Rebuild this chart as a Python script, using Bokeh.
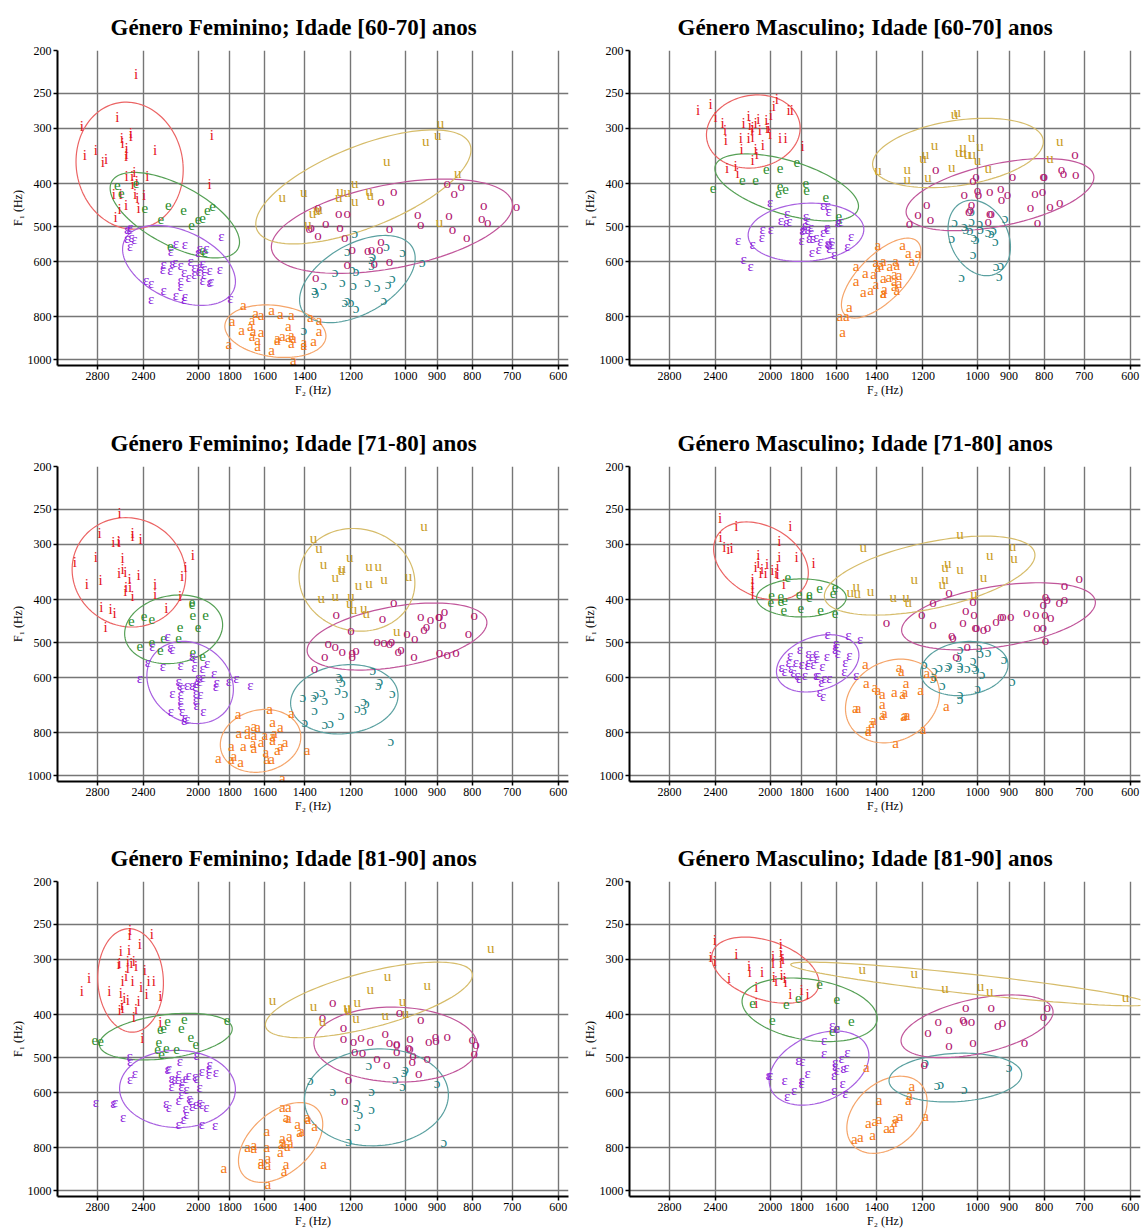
import numpy as np
from bokeh.plotting import figure
from bokeh.models import Range1d, FixedTicker, PrintfTickFormatter, ColumnDataSource
from bokeh.layouts import column, row
from bokeh.embed import file_html
from bokeh.resources import INLINE
from bokeh.core.properties import value

# Vowel symbols and their colours (text / ellipse)
VOWELS = ["i", "e", "ɛ", "a", "ɔ", "o", "u"]
TEXT_COLORS = ["#e6141e", "#2a8c2a", "#8c1edc", "#f57814", "#1e8282", "#af146e", "#c89b1e"]
ELLIPSE_COLORS = ["#eb6464", "#55a055", "#a860e0", "#f5a56a", "#5aa0a0", "#c0559a", "#d6bc6a"]

F2_TICKS = [2800, 2400, 2000, 1800, 1600, 1400, 1200, 1000, 900, 800, 700, 600]
F1_TICKS = [200, 250, 300, 400, 500, 600, 800, 1000]

TITLES = [
    "Género Feminino; Idade [60-70] anos",
    "Género Masculino; Idade [60-70] anos",
    "Género Feminino; Idade [71-80] anos",
    "Género Masculino; Idade [71-80] anos",
    "Género Feminino; Idade [81-90] anos",
    "Género Masculino; Idade [81-90] anos",
]

# ---- (F2, F1) measurements in Hz ----
# Feminino 60-70
f6070_i = [(2460,226),(2620,282),(2950,296),(1910,310),(2505,308),(2505,312),(2580,316),(2575,324),
           (2815,335),(2920,345),(2540,332),(2540,342),(2545,347),(2310,336),(2720,351),(2750,357),
           (2475,376),(2540,385),(2495,385),(2370,384),(2490,400),(2455,395),(1925,400),(2650,423),
           (2590,423),(2470,421),(2395,424),(2450,430),(2545,447),(2600,457),(2440,455),(2635,475)]
f6070_e = [(2620,402),(2585,419),(2460,398),(2390,455),(2210,448),(2100,458),(2265,481),(2045,495),
           (2000,481),(1970,477),(1940,458),(1905,449),(2195,553),(1970,565),(1955,570)]
f6070_eh = [(2510,500),(2535,507),(2515,507),(2535,530),(2500,529),(2475,534),(2510,554),(2155,545),
            (2090,548),(2190,568),(2160,602),(2245,606),(2250,625),(2195,627),(2180,603),(2120,610),
            (2050,597),(2025,618),(1990,613),(1970,603),(1960,621),(1925,627),(1860,625),(1995,629),
            (2095,634),(2120,659),(2065,650),(1970,661),(1925,666),(1915,663),(2380,661),(2340,669),
            (2245,697),(2155,712),(2090,716),(2095,730),(2340,730),(2120,680),(1850,524),(1990,560),
            (1945,560),(1795,724),(2000,570),(1960,640),(2025,640)]
f6070_a = [(1720,750),(1650,785),(1565,772),(1520,789),(1465,791),(1620,791),(1785,816),(1670,812),
           (1680,840),(1730,858),(1665,861),(1620,865),(1480,840),(1375,802),(1335,812),(1335,861),
           (1535,902),(1465,878),(1455,893),(1465,918),(1405,924),(1360,908),(1640,902),(1640,929),
           (1805,921),(1565,950),(1455,1000),(1670,883),(1510,883),(1405,913),(1480,890),(1535,893)]
f6070_oh = [(1185,516),(1215,568),(1195,625),(1180,629),(1120,592),(1120,610),(1065,553),(1010,570),
            (945,602),(1265,634),(1315,679),(1355,694),(1350,705),(1235,666),(1190,677),(1135,666),
            (1100,684),(1060,674),(1045,655),(1075,733),(1215,733),(1225,740),(1200,740),(1180,762),
            (1405,858),(1355,697),(1115,584)]
f6070_o = [(1340,451),(1370,502),(1340,523),(1305,491),(1250,465),(1215,465),(1245,502),(1225,529),
           (1085,438),(1040,415),(1055,503),(870,398),(850,419),(830,405),(960,469),(950,492),
           (865,471),(855,507),(770,446),(775,477),(760,489),(815,529),(690,449),(1195,562),
           (1135,566),(1120,563),(1090,563),(1085,539),(1110,603),(1055,597),(1215,608),(1350,650),
           (1380,503)]
f6070_u = [(890,292),(898,310),(935,321),(1065,355),(840,378),(1510,428),(1405,418),(1245,415),
           (1215,418),(1185,399),(1130,415),(1125,425),(1250,429),(1185,437),(1365,465),(1345,459),
           (1335,457),(1385,494),(893,488)]

# Masculino 60-70
m6070_i = [(2545,272),(2440,264),(2400,282),(2345,292),(2325,302),(2320,318),(2185,292),(2150,281),
           (2140,294),(2125,302),(2120,298),(2100,292),(2080,285),(2070,302),(2025,287),(2020,300),
           (2010,300),(2000,309),(1995,280),(1975,267),(1955,258),(1880,272),(1860,272),(2205,316),
           (2200,334),(2150,316),(2120,314),(2050,327),(2100,334),(2090,343),(1935,316),(1900,316),
           (1795,329),(2310,368),(2245,364),(2230,378),(2120,354)]
m6070_e = [(2420,408),(2195,393),(2100,393),(2025,370),(1935,368),(1830,358),(1935,405),(1900,412),
           (1945,419),(1770,414),(1775,398),(1660,428),(1590,473),(1590,489)]
m6070_eh = [(2000,439),(1890,465),(1930,482),(1895,488),(1875,485),(1775,473),(1765,483),(1780,496),
            (1785,505),(1765,505),(1745,501),(1675,446),(1650,446),(1645,461),(1655,501),(1675,514),
            (1650,505),(1580,485),(1595,488),(2050,505),(1995,505),(2055,529),(2225,537),(2120,548),
            (2185,592),(2135,614),(1800,537),(1755,530),(1735,530),(1715,529),(1690,539),(1650,545),
            (1645,547),(1630,537),(1625,548),(1640,558),(1545,554),(1525,524),(1740,570),(1700,562),
            (1615,577),(1795,510),(1745,514)]
m6070_a = [(1395,551),(1285,551),(1260,574),(1220,574),(1245,597),(1315,597),(1370,597),(1405,602),
           (1380,610),(1395,618),(1500,614),(1455,638),(1415,640),(1340,614),(1310,610),(1320,640),
           (1300,642),(1345,650),(1370,655),(1500,663),(1405,674),(1320,663),(1300,670),(1320,680),
           (1310,697),(1365,692),(1430,697),(1465,703),(1370,705),(1370,708),(1535,759),(1585,795),
           (1550,795),(1570,866)]
m6070_oh = [(1080,488),(1045,499),(1020,485),(1040,507),(1025,509),(990,507),(992,491),(1012,527),
            (1005,533),(965,514),(955,518),(948,510),(912,477),(1090,530),(1015,577),(942,539),
            (940,614),(925,611),(1055,649),(930,646),(1020,461)]
m6070_o = [(1150,370),(1015,392),(1005,384),(1045,421),(1000,414),(997,423),(960,416),(925,408),
           (923,432),(905,423),(890,385),(803,384),(800,384),(755,370),(750,378),(722,343),
           (720,380),(825,420),(805,416),(838,451),(785,449),(760,439),(818,488),(1025,457),
           (1020,444),(1030,461),(1220,469),(1255,490),(1185,444),(1170,480),(960,465),(955,465),
           (965,485)]
m6070_u = [(1080,279),(1070,275),(1020,314),(1050,331),(992,329),(1155,327),(1200,349),(1190,342),
           (1065,340),(1050,340),(1035,342),(1018,342),(1000,353),(965,368),(1090,366),(760,320),
           (785,349),(1395,373),(1265,370),(1265,391),(1180,386)]

# Feminino 71-80
f7180_i = [(2600,255),(2780,283),(2490,283),(2490,287),(2425,292),(2655,297),(2610,294),(2605,297),
           (3020,329),(2815,320),(2575,322),(2575,341),(2605,348),(2550,346),(2440,352),(2515,360),
           (2900,368),(2770,361),(2310,369),(2545,374),(2510,374),(2550,383),(2490,393),(2310,388),
           (2085,337),(2110,354),(2035,317),(2125,392),(2225,418),(2765,416),(2680,420),(2645,428),
           (2725,461)]
f7180_e = [(2500,448),(2395,436),(2335,443),(2040,405),(2035,432),(1950,432),(2125,461),(2000,461),
           (2335,498),(2245,487),(2135,487),(2430,510),(2270,520),(2035,526),(1970,537),(2040,410)]
f7180_eh = [(2215,484),(2330,510),(2195,512),(2180,517),(2365,552),(2250,564),(2120,562),(2025,567),
            (1970,570),(1940,556),(1895,586),(2430,600),(2135,610),(2125,624),(2110,630),(2075,622),
            (2040,622),(2020,627),(2010,617),(1990,612),(1880,614),(1885,627),(1805,612),(1760,602),
            (1680,622),(2180,651),(2120,653),(2015,651),(1985,653),(2120,674),(2015,674),(2010,690),
            (2120,693),(2190,714),(2110,714),(1965,714),(2090,737),(2095,747),(2075,743),(2000,597),
            (1970,597),(2040,535),(2020,541)]
f7180_a = [(1750,726),(1575,705),(1560,755),(1660,772),(1640,777),(1695,780),(1520,777),(1465,720),
           (1745,799),(1695,806),(1660,810),(1600,810),(1560,813),(1550,799),(1790,858),(1720,855),
           (1665,843),(1620,838),(1560,829),(1495,838),(1520,858),(1535,873),(1660,863),(1595,885),
           (1790,918),(1870,912),(1735,933),(1590,915),(1565,915),(1390,873),(1510,1010),(1775,900)]
f7180_oh = [(1410,662),(1360,665),(1350,653),(1320,645),(1310,674),(1355,709),(1285,760),(1310,763),
            (1255,640),(1240,727),(1250,594),(1245,602),(1235,614),(1225,649),(1150,676),(1140,685),
            (1175,704),(1150,709),(1095,624),(1090,610),(1115,578),(1045,649),(1050,835),(1400,755)]
f7180_o = [(1260,430),(1200,468),(1040,404),(1080,441),(950,436),(920,443),(895,436),(893,436),
           (878,424),(883,453),(932,458),(940,466),(795,434),(810,475),(995,475),(970,487),
           (1295,500),(1265,510),(1235,522),(1195,526),(1180,520),(1310,537),(1195,537),(1100,495),
           (1075,498),(1055,500),(1048,495),(1025,522),(1015,517),(972,536),(893,525),(870,531),
           (845,525),(1355,570)]
f7180_u = [(1360,290),(1335,305),(940,272),(1205,321),(1315,333),(1240,343),(1235,340),(1130,335),
           (1095,335),(1265,355),(1075,360),(990,354),(1170,371),(1130,366),(1325,397),(1265,392),
           (1200,392),(1205,406),(1190,419),(1150,418),(1140,428),(1030,470)]

# Masculino 71-80
m7180_i = [(2365,262),(2240,272),(2360,289),(2330,304),(2300,307),(2275,306),(1870,272),(1940,295),
           (2080,317),(2080,331),(2100,338),(2055,341),(2020,333),(2030,348),(2065,348),(1985,343),
           (1960,348),(1950,335),(1940,320),(1830,320),(1730,331),(2120,360),(2120,369),(2120,377),
           (2120,388),(1910,368),(1950,349)]
m7180_e = [(1885,356),(1990,390),(1995,405),(1930,393),(1930,403),(1905,401),(1815,388),(1755,388),
           (1755,394),(1695,377),(1610,375),(1620,387),(1910,423),(1805,418),(1690,422),(1610,428)]
m7180_eh = [(1650,479),(1540,481),(1480,490),(1605,500),(1600,510),(1610,518),(1870,534),(1810,518),
            (1760,528),(1715,527),(1740,537),(1710,542),(1655,537),(1595,527),(1535,534),(1555,552),
            (1880,553),(1835,552),(1800,558),(1765,562),(1730,558),(1680,564),(1905,581),(1865,570),
            (1850,583),(1825,593),(1815,601),(1780,593),(1715,593),(1670,601),(1640,601),(1685,614),
            (1705,591),(1560,581),(1500,591),(1695,647),(1675,661),(1925,567),(1760,552)]
m7180_a = [(1455,558),(1300,567),(1290,581),(1185,586),(1155,596),(1450,617),(1410,631),(1395,639),
           (1375,654),(1320,647),(1285,654),(1270,617),(1275,645),(1210,639),(1375,689),(1490,701),
           (1505,701),(1365,723),(1375,727),(1275,729),(1265,729),(1280,732),(1415,748),(1425,758),
           (1440,783),(1440,794),(1200,783),(1315,841),(1110,694)]
m7180_oh = [(1195,558),(1155,576),(1135,567),(1105,567),(1100,562),(1060,562),(1065,540),(1060,518),
            (1035,571),(1015,546),(1010,567),(995,512),(990,528),(985,589),(1005,573),(965,524),
            (915,544),(890,612),(1125,625),(1060,652),(1060,672),(1000,632),(1160,600),(1060,570)]
m7180_o = [(1100,385),(1015,403),(1160,405),(1205,431),(1160,455),(1050,449),(1040,421),(1012,431),
           (1008,462),(1003,461),(980,465),(967,462),(940,446),(925,435),(918,435),(895,435),
           (848,426),(823,431),(820,462),(803,462),(798,431),(783,438),(803,410),(792,398),
           (797,393),(761,405),(748,398),(748,371),(712,358),(1090,481),(1085,486),(1035,510),
           (1075,536),(1355,449),(797,492)]
m7180_u = [(1060,284),(1465,304),(890,303),(960,317),(885,322),(1115,337),(1105,331),(1060,341),
           (980,355),(1235,360),(1115,360),(1125,369),(1500,373),(1430,382),(1530,385),(1495,387),
           (1325,394),(1270,394),(1260,405),(1012,388)]

# Feminino 81-90
f8190_i = [(2510,257),(2335,263),(2515,264),(2430,277),(2590,287),(2520,285),(2600,305),(2610,308),
           (2530,302),(2480,303),(2460,310),(2500,306),(2530,313),(2390,317),(2880,330),(2545,327),
           (2575,336),(2490,336),(2360,336),(2320,336),(2420,346),(2950,353),(2690,353),(2590,358),
           (2560,366),(2530,371),(2375,359),(2440,372),(2270,362),(2600,390),(2575,387),(2460,388),
           (2480,404),(2580,380),(2270,416),(2410,451)]
f8190_e = [(2825,456),(2770,458),(2270,431),(2245,428),(2215,414),(2115,428),(2095,409),(2050,449),
           (2015,466),(1815,411),(2280,461),(2290,479),(2225,475),(2150,479),(2260,491)]
f8190_eh = [(2515,495),(2510,508),(2010,493),(1925,516),(1930,528),(1885,540),(1975,537),(1930,544),
            (2020,551),(2010,557),(2125,510),(2135,542),(2205,528),(2215,530),(2185,557),(2165,560),
            (2140,560),(2110,564),(2065,548),(2085,557),(2185,580),(2115,580),(2080,590),(1990,582),
            (2115,604),(2470,542),(2510,560),(2815,629),(2655,632),(2640,629),(2570,680),(2225,632),
            (2205,645),(2135,625),(2060,618),(2050,623),(2040,643),(2015,636),(1990,629),(1975,636),
            (1945,645),(2085,651),(2080,672),(2100,687),(2135,707),(1975,707),(1890,711)]
f8190_a = [(1510,647),(1480,647),(1490,680),(1480,683),(1390,680),(1385,689),(1435,707),(1415,731),
           (1425,737),(1355,713),(1590,731),(1475,750),(1510,760),(1470,780),(1505,777),(1515,784),
           (1485,793),(1520,816),(1695,798),(1660,788),(1660,802),(1590,798),(1620,858),(1585,843),
           (1585,873),(1490,868),(1500,903),(1315,868),(1835,890),(1585,967),(1620,868)]
f8190_oh = [(1130,520),(1000,530),(1035,560),(900,570),(1010,580),(1375,562),(1275,594),(1120,594),
            (1175,629),(1180,647),(1165,672),(1120,653),(1175,713),(1210,772),(880,777),(1005,540)]
f8190_o = [(1275,375),(1320,404),(1230,426),(1230,451),(1190,458),(1160,449),(1125,458),(1070,439),
           (1055,460),(1030,466),(1030,482),(1020,394),(985,451),(990,472),(985,476),(950,408),
           (925,458),(905,447),(903,456),(870,447),(800,453),(790,466),(795,489),(1185,482),
           (1155,486),(1100,500),(1065,516),(975,493),(978,510),(930,500),(957,542),(1210,560),
           (1225,623),(1030,464)]
f8190_u = [(752,283),(1062,327),(930,343),(1125,350),(1560,371),(1360,382),(1215,384),(1210,390),
           (1175,375),(1010,372),(1070,401),(1180,406),(1000,396),(1320,414),(1215,386)]

# Masculino 81-90
m8190_i = [(2405,271),(2440,297),(2405,302),(2240,291),(2145,310),(2140,320),(2295,330),(2095,346),
           (2055,320),(1980,294),(1980,306),(1975,328),(1960,336),(1930,288),(1925,294),(1930,306),
           (1915,299),(1925,325),(1905,331),(1900,338),(1870,360),(1800,352),(1765,360),(2095,377),
           (1930,277)]
m8190_e = [(2120,377),(1895,379),(1820,366),(1695,341),(1600,368),(1985,411),(1525,414),(1600,428),
           (1625,436)]
m8190_eh = [(1625,423),(1600,428),(1670,456),(1670,489),(1545,485),(1575,500),(1610,511),(1610,522),
            (1600,533),(1550,524),(1565,528),(1615,548),(1570,570),(1555,600),(1615,592),(1820,506),
            (1795,510),(1765,542),(1800,562),(1800,570),(1905,562),(1845,592),(1890,610),(2010,548),
            (2000,548)]
m8190_a = [(1450,526),(1245,580),(1255,607),(1260,623),(1390,623),(1190,677),(1295,677),(1315,686),
           (1320,700),(1390,689),(1410,695),(1440,703),(1330,723),(1355,723),(1420,749),(1480,754),
           (1510,762)]
m8190_oh = [(1190,511),(1145,577),(1130,574),(1045,590),(900,526)]
m8190_o = [(1195,518),(1180,438),(1140,414),(1100,431),(1100,468),(1050,409),(1045,414),(1020,414),
           (1015,461),(1040,384),(955,385),(935,422),(920,416),(855,460),(802,402),(792,384)]
m8190_u = [(1470,315),(1235,322),(1115,348),(990,344),(960,354),(610,365)]

PANELS = [
    [f6070_i, f6070_e, f6070_eh, f6070_a, f6070_oh, f6070_o, f6070_u],
    [m6070_i, m6070_e, m6070_eh, m6070_a, m6070_oh, m6070_o, m6070_u],
    [f7180_i, f7180_e, f7180_eh, f7180_a, f7180_oh, f7180_o, f7180_u],
    [m7180_i, m7180_e, m7180_eh, m7180_a, m7180_oh, m7180_o, m7180_u],
    [f8190_i, f8190_e, f8190_eh, f8190_a, f8190_oh, f8190_o, f8190_u],
    [m8190_i, m8190_e, m8190_eh, m8190_a, m8190_oh, m8190_o, m8190_u],
]

ELLIPSE_SD = 2.0
SERIF = "Liberation Serif"


def dispersion_ellipse(points, k=ELLIPSE_SD, n=120):
    """Ellipse of k standard deviations, computed in log-frequency space."""
    pts = np.log10(np.asarray(points, dtype=float))
    mean = pts.mean(axis=0)
    cov = np.cov(pts, rowvar=False)
    vals, vecs = np.linalg.eigh(cov)
    t = np.linspace(0, 2 * np.pi, n)
    circle = np.vstack([np.cos(t), np.sin(t)])
    shape = vecs @ (np.sqrt(vals)[:, None] * circle) * k
    xy = mean[:, None] + shape
    return 10 ** xy[0], 10 ** xy[1]


def make_panel(title, groups, left_col, row_idx):
    border_bottom = [51, 50, 32][row_idx]
    p = figure(
        frame_width=511, frame_height=315,
        min_border_left=57 if left_col else 53,
        min_border_right=8 if left_col else 2,
        min_border_top=50, min_border_bottom=border_bottom,
        x_axis_type="log", y_axis_type="log",
        x_range=Range1d(3200, 580), y_range=Range1d(1030, 200),
        output_backend="svg", toolbar_location=None, title=title,
    )
    p.title.text_font = SERIF
    p.title.text_font_size = "23px"
    p.title.text_font_style = "bold"
    p.title.text_color = "black"
    p.title.text_line_height = 0.85
    p.title.align = "left"
    p.title.offset = 53 if left_col else 48
    p.title.standoff = 21

    p.outline_line_color = None
    p.background_fill_color = "white"
    p.border_fill_color = "white"

    p.xaxis.ticker = FixedTicker(ticks=F2_TICKS)
    p.yaxis.ticker = FixedTicker(ticks=F1_TICKS)
    p.xaxis.formatter = PrintfTickFormatter(format="%d")
    p.yaxis.formatter = PrintfTickFormatter(format="%d")
    for ax in (p.xaxis[0], p.yaxis[0]):
        ax.axis_line_width = 2
        ax.axis_line_color = "black"
        ax.major_tick_line_color = "black"
        ax.major_tick_line_width = 1.5
        ax.major_tick_in = 0
        ax.major_tick_out = 4
        ax.minor_tick_line_color = None
        ax.major_label_text_font = SERIF
        ax.major_label_text_font_size = "12px"
        ax.major_label_text_color = "black"
        ax.axis_label_text_font = SERIF
        ax.axis_label_text_font_size = "12px"
        ax.axis_label_text_font_style = "normal"
        ax.axis_label_text_color = "black"
        ax.major_label_standoff = 2
        ax.axis_label_standoff = 0
    p.xaxis.axis_label = "F₂ (Hz)"
    p.yaxis.axis_label = "F₁ (Hz)"

    p.xgrid.grid_line_color = "#767676"
    p.ygrid.grid_line_color = "#767676"
    p.xgrid.grid_line_width = 1.4
    p.ygrid.grid_line_width = 1.4

    for pts, ecol in zip(groups, ELLIPSE_COLORS):
        ex, ey = dispersion_ellipse(pts)
        p.line(ex, ey, line_color=ecol, line_width=1.2)
    for vowel, pts, tcol in zip(VOWELS, groups, TEXT_COLORS):
        arr = np.asarray(pts, dtype=float)
        src = ColumnDataSource(dict(f2=arr[:, 0], f1=arr[:, 1], label=[vowel] * len(arr)))
        p.text(x="f2", y="f1", text="label", source=src, text_color=tcol,
               text_font=value(SERIF), text_font_size="15px",
               text_align="center", text_baseline="middle")
    return p


figs = []
for idx, (title, groups) in enumerate(zip(TITLES, PANELS)):
    figs.append(make_panel(title, groups, left_col=(idx % 2 == 0), row_idx=idx // 2))

layout = column(row(figs[0], figs[1]), row(figs[2], figs[3]), row(figs[4], figs[5]))

open("out.html", "w").write(file_html(layout, INLINE))
